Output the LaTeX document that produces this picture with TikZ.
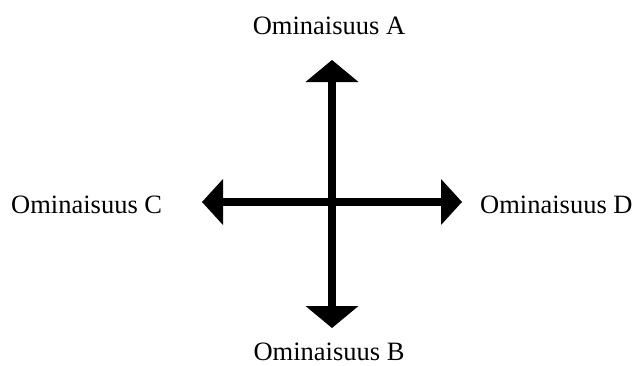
\documentclass[tikz,border=0pt]{standalone}
\usepackage{fontspec}
\setmainfont{Liberation Serif}
\usetikzlibrary{arrows.meta,positioning}

\begin{document}
\begin{tikzpicture}[
  x=1pt, y=1pt,
  font=\fontsize{26.5}{32}\selectfont,
  label/.style={inner sep=0pt, anchor=base},
  vaxis/.style={{Triangle[length=22pt, width=53pt, line width=0pt]}-{Triangle[length=22pt, width=53pt, line width=0pt]}, line width=8pt},
  haxis/.style={{Triangle[length=21pt, width=46pt, line width=0pt]}-{Triangle[length=21pt, width=46pt, line width=0pt]}, line width=8pt}
]
\useasboundingbox (0,0) rectangle (634,365);
% tips of the two axes
\coordinate (top) at (332,305);
\coordinate (bottom) at (332,37);
\coordinate (left) at (202,163);
\coordinate (right) at (462,163);
% feature labels
\node[label] (featA) at (329,330) {Ominaisuus A};
\node[label] (featB) at (329,5) {Ominaisuus B};
\node[label, anchor=base west] (featC) at (11,152) {Ominaisuus C};
\node[label, anchor=base west] (featD) at (480,152) {Ominaisuus D};
\draw[vaxis] (bottom) -- (top);
\draw[haxis] (left) -- (right);
\end{tikzpicture}
\end{document}
